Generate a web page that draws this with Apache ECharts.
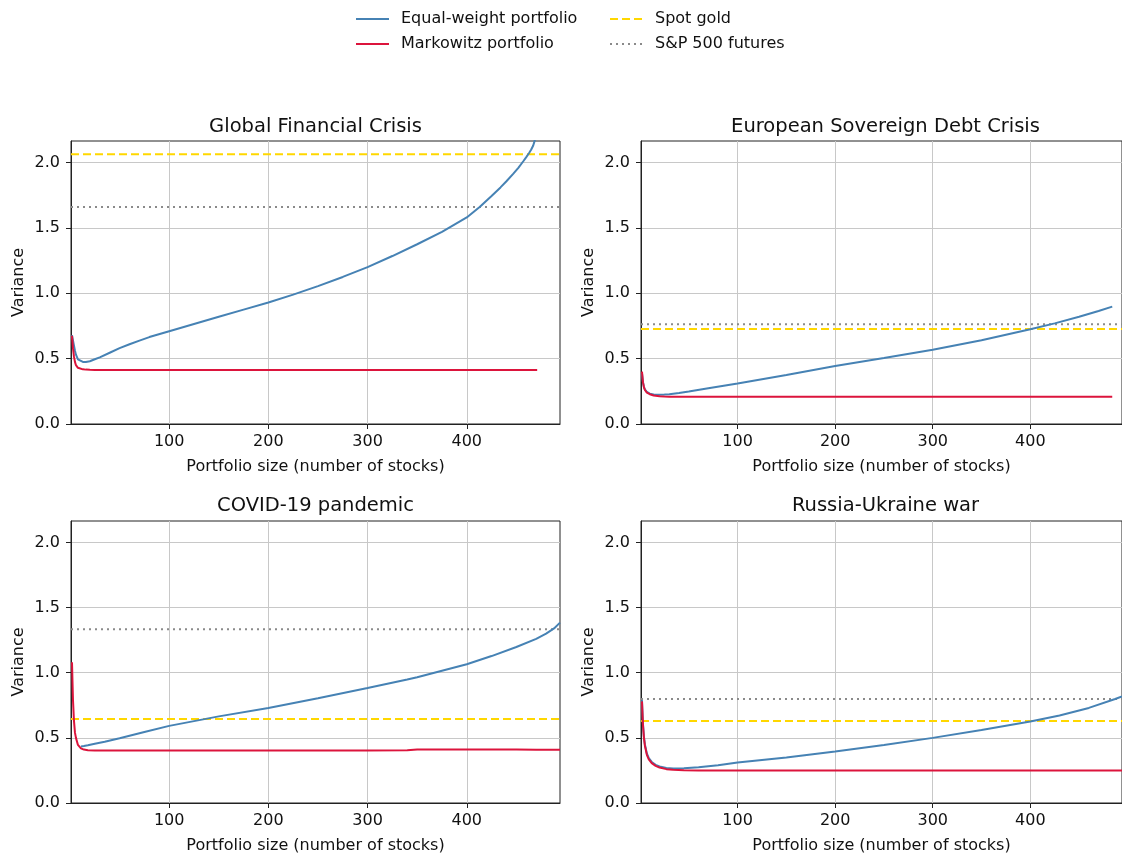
<!DOCTYPE html>
<html>
<head>
<meta charset="utf-8">
<title>Portfolio variance vs size</title>
<script src="https://cdn.jsdelivr.net/npm/echarts@6/dist/echarts.min.js"></script>
<style>
  html, body { margin: 0; padding: 0; background: #fff; }
  #chart { width: 1122px; height: 855px; }
</style>
</head>
<body>
<div id="chart"></div>
<script>
// panel titles, in order TL, TR, BL, BR
const panelTitles = ['Global Financial Crisis', 'European Sovereign Debt Crisis', 'COVID-19 pandemic', 'Russia-Ukraine war']

const xTicks = [100, 200, 300, 400]
const yTicks = [0, 0.5, 1, 1.5, 2]

// Global Financial Crisis
const gfcSize = [2, 3, 4, 5, 6, 8, 10, 13, 16, 20, 25, 30, 40, 50, 60, 70, 80, 100, 125, 150, 175, 200, 225, 250, 275, 300, 325, 350, 375, 400, 413, 425, 434, 440, 447, 452, 457, 460, 463, 465, 467, 469, 471]
const gfcEqual = [0.68, 0.64, 0.6, 0.56, 0.53, 0.495, 0.48, 0.475, 0.475, 0.48, 0.495, 0.51, 0.545, 0.58, 0.61, 0.638, 0.665, 0.71, 0.765, 0.82, 0.875, 0.93, 0.99, 1.055, 1.125, 1.2, 1.285, 1.375, 1.47, 1.58, 1.66, 1.745, 1.81, 1.857, 1.915, 1.96, 2.01, 2.042, 2.075, 2.1, 2.13, 2.18, 2.3]
const gfcMarkowitz = [0.675, 0.58, 0.515, 0.475, 0.45, 0.43, 0.422, 0.418, 0.416, 0.415, 0.414, 0.414, 0.414, 0.414, 0.414, 0.414, 0.414, 0.414, 0.414, 0.414, 0.414, 0.414, 0.414, 0.414, 0.414, 0.414, 0.414, 0.414, 0.414, 0.414, 0.414, 0.414, 0.414, 0.414, 0.414, 0.414, 0.414, 0.414, 0.414, 0.414, 0.414, 0.414, 0.414]

// European Sovereign Debt Crisis
const esdcSize = [2, 3, 4, 5, 7, 10, 14, 20, 25, 30, 40, 50, 70, 100, 150, 200, 250, 300, 350, 400, 425, 450, 470, 484]
const esdcEqual = [0.39, 0.32, 0.285, 0.265, 0.245, 0.232, 0.226, 0.224, 0.225, 0.228, 0.237, 0.248, 0.273, 0.31, 0.375, 0.443, 0.505, 0.568, 0.64, 0.725, 0.77, 0.82, 0.865, 0.898]
const esdcMarkowitz = [0.4, 0.32, 0.28, 0.26, 0.24, 0.228, 0.218, 0.212, 0.21, 0.209, 0.208, 0.208, 0.208, 0.208, 0.208, 0.208, 0.208, 0.208, 0.208, 0.208, 0.208, 0.208, 0.208, 0.208]

// COVID-19 pandemic
const covidSize = [2, 3, 4, 5, 6, 8, 11, 14, 18, 25, 35, 50, 75, 100, 150, 200, 250, 300, 340, 350, 400, 425, 450, 470, 480, 488, 494]
const covidEqual = [null, null, null, null, null, null, 0.433, 0.437, 0.443, 0.455, 0.47, 0.497, 0.545, 0.592, 0.665, 0.73, 0.805, 0.883, 0.948, 0.966, 1.065, 1.128, 1.198, 1.26, 1.3, 1.34, 1.385]
const covidMarkowitz = [1.08, 0.79, 0.63, 0.54, 0.5, 0.446, 0.42, 0.41, 0.405, 0.403, 0.403, 0.403, 0.404, 0.403, 0.403, 0.404, 0.404, 0.404, 0.405, 0.41, 0.41, 0.41, 0.41, 0.409, 0.409, 0.409, 0.408]

// Russia-Ukraine war
const ruwSize = [2, 3, 4, 5, 7, 9, 12, 16, 20, 27, 34, 45, 60, 80, 100, 150, 200, 250, 300, 350, 400, 430, 460, 487, 494]
const ruwEqual = [0.79, 0.61, 0.51, 0.45, 0.38, 0.345, 0.315, 0.293, 0.28, 0.268, 0.265, 0.267, 0.275, 0.29, 0.311, 0.35, 0.395, 0.445, 0.5, 0.56, 0.625, 0.672, 0.73, 0.798, 0.818]
const ruwMarkowitz = [0.78, 0.6, 0.5, 0.44, 0.37, 0.335, 0.306, 0.285, 0.272, 0.26, 0.255, 0.252, 0.25, 0.25, 0.25, 0.25, 0.25, 0.25, 0.25, 0.25, 0.25, 0.25, 0.25, 0.25, 0.25]

// benchmark levels (horizontal lines), TL, TR, BL, BR
const goldLevels = [2.064, 0.727, 0.645, 0.63]
const sp500Levels = [1.661, 0.763, 1.334, 0.798]

const X_MIN = 1
const X_MAX = 494
const Y_MAX = 2.165

const FONT = 'DejaVu Sans'
const BLUE = '#4682b4'
const RED = '#dc143c'
const GOLD = '#ffd700'
const GREY = '#8a8a8a'

const panels = [
  { size: gfcSize, equal: gfcEqual, markowitz: gfcMarkowitz },
  { size: esdcSize, equal: esdcEqual, markowitz: esdcMarkowitz },
  { size: covidSize, equal: covidEqual, markowitz: covidMarkowitz },
  { size: ruwSize, equal: ruwEqual, markowitz: ruwMarkowitz }
]

const grids = [
  { left: 71, top: 141, width: 489, height: 283 },
  { left: 641, top: 141, width: 489, height: 283 },
  { left: 71, top: 521, width: 489, height: 282 },
  { left: 641, top: 521, width: 489, height: 282 }
]

function pair (xs, ys) {
  return xs.map((x, i) => [x, ys[i]])
}

const xAxes = grids.map((g, i) => ({
  type: 'value',
  gridIndex: i,
  min: X_MIN,
  max: X_MAX,
  name: 'Portfolio size (number of stocks)',
  nameLocation: 'middle',
  nameGap: 35,
  nameTextStyle: { fontFamily: FONT, fontSize: 16, color: '#111' },
  axisLine: { show: true, lineStyle: { color: '#222', width: 1 } },
  axisTick: { show: true, customValues: xTicks, length: 5, lineStyle: { color: '#222' } },
  axisLabel: { customValues: xTicks, margin: 10, fontFamily: FONT, fontSize: 16, color: '#111' },
  splitLine: { show: true, lineStyle: { color: '#c8c8c8', width: 1 } }
}))

const yAxes = grids.map((g, i) => ({
  type: 'value',
  gridIndex: i,
  min: 0,
  max: Y_MAX,
  name: 'Variance',
  nameLocation: 'middle',
  nameRotate: 90,
  nameGap: 44,
  nameTextStyle: { fontFamily: FONT, fontSize: 16, color: '#111' },
  axisLine: { show: true, lineStyle: { color: '#222', width: 1 } },
  axisTick: { show: true, customValues: yTicks, length: 5, lineStyle: { color: '#222' } },
  axisLabel: {
    customValues: yTicks,
    margin: 11,
    fontFamily: FONT,
    fontSize: 16,
    color: '#111',
    formatter: v => v.toFixed(1)
  },
  splitLine: { show: true, lineStyle: { color: '#c8c8c8', width: 1 } }
}))

const series = []
panels.forEach((p, i) => {
  series.push({
    name: 'Equal-weight portfolio',
    type: 'line',
    xAxisIndex: i,
    yAxisIndex: i,
    data: pair(p.size, p.equal),
    showSymbol: false,
    symbol: 'none',
    clip: true,
    lineStyle: { color: BLUE, width: 2 },
    itemStyle: { color: BLUE },
    z: 3
  })
  series.push({
    name: 'Markowitz portfolio',
    type: 'line',
    xAxisIndex: i,
    yAxisIndex: i,
    data: pair(p.size, p.markowitz),
    showSymbol: false,
    symbol: 'none',
    clip: true,
    lineStyle: { color: RED, width: 2 },
    itemStyle: { color: RED },
    z: 3
  })
  series.push({
    name: 'Spot gold',
    type: 'line',
    xAxisIndex: i,
    yAxisIndex: i,
    data: [[X_MIN, goldLevels[i]], [X_MAX, goldLevels[i]]],
    showSymbol: false,
    symbol: 'none',
    lineStyle: { color: GOLD, width: 2, type: [8, 4] },
    itemStyle: { color: GOLD },
    z: 2
  })
  series.push({
    name: 'S&P 500 futures',
    type: 'line',
    xAxisIndex: i,
    yAxisIndex: i,
    data: [[X_MIN, sp500Levels[i]], [X_MAX, sp500Levels[i]]],
    showSymbol: false,
    symbol: 'none',
    lineStyle: { color: GREY, width: 2, type: [2, 4] },
    itemStyle: { color: GREY },
    z: 2
  })
})

const titleCenters = [
  [315.5, 117], [885.5, 117], [315.5, 496], [885.5, 496]
]

// legend: line sample only, the symbol is hidden through opacity
const legendCommon = {
  orient: 'vertical',
  top: 6,
  itemWidth: 33,
  itemHeight: 14,
  itemGap: 9,
  itemStyle: { opacity: 0 },
  textStyle: { fontFamily: FONT, fontSize: 16, lineHeight: 16, color: '#111', padding: [0, 0, 0, 7] }
}

const option = {
  backgroundColor: '#fff',
  animation: false,
  title: panelTitles.map((t, i) => ({
    text: t,
    left: titleCenters[i][0],
    top: titleCenters[i][1],
    textAlign: 'center',
    padding: 0,
    textStyle: { fontFamily: FONT, fontSize: 19.5, fontWeight: 'normal', color: '#111' }
  })),
  legend: [
    Object.assign({}, legendCommon, { left: 350, data: ['Equal-weight portfolio', 'Markowitz portfolio'] }),
    Object.assign({}, legendCommon, { left: 604, data: ['Spot gold', 'S&P 500 futures'] })
  ],
  grid: grids.map(g => Object.assign({ show: true, borderColor: '#222', borderWidth: 1, backgroundColor: 'transparent' }, g)),
  xAxis: xAxes,
  yAxis: yAxes,
  series
}

const chart = echarts.init(document.getElementById('chart'), null, { renderer: 'canvas' })
chart.setOption(option)
</script>
</body>
</html>
